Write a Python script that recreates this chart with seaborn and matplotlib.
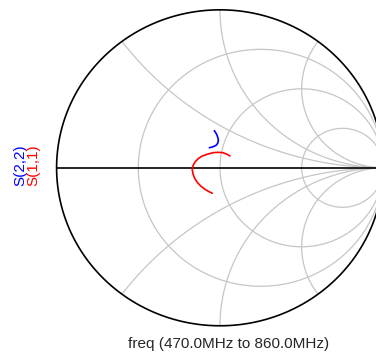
import numpy as np
import pandas as pd
import seaborn as sns
import matplotlib.pyplot as plt

s11_re = [0.061, 0.041, 0.017, -0.010, -0.041, -0.081, -0.112, -0.133, -0.151,
          -0.163, -0.170, -0.165, -0.155, -0.139, -0.118, -0.092, -0.067, -0.047]
s11_im = [0.075, 0.087, 0.096, 0.098, 0.096, 0.085, 0.073, 0.058, 0.039,
          0.018, -0.010, -0.039, -0.066, -0.092, -0.115, -0.136, -0.151, -0.161]
s22_re = [-0.035, -0.026, -0.018, -0.012, -0.010, -0.014, -0.024, -0.041, -0.053, -0.065]
s22_im = [0.235, 0.222, 0.206, 0.187, 0.172, 0.155, 0.142, 0.134, 0.130, 0.127]

# smith chart grid
r_values = [1 / 3, 1, 3]
x_values = [0.5, 1, 2]

trace_names = ["S(2,2)", "S(1,1)"]
freq_label = "freq (470.0MHz to 860.0MHz)"

sns.set_style("white")
plt.rcParams['font.family'] = ['Liberation Sans', 'DejaVu Sans']

fig = plt.figure(figsize=(3.76, 3.55), dpi=100)
ax = fig.add_axes([0.1505, 0.0823, 0.8691, 0.890])

grid_col = "#c6c6c6"

# resistance circles
t = np.linspace(0, 2 * np.pi, 400)
for r in r_values:
    c = r / (1 + r)
    rad = 1 / (1 + r)
    ax.plot(c + rad * np.cos(t), rad * np.sin(t), color=grid_col, lw=0.9)

# reactance arcs
rr = np.concatenate([[0], np.logspace(-3, 4, 600)])
for xv in x_values:
    for s in (1, -1):
        g = (rr + 1j * s * xv - 1) / (rr + 1j * s * xv + 1)
        ax.plot(g.real, g.imag, color=grid_col, lw=0.9)

# outer circle and real axis
ax.plot(np.cos(t), np.sin(t), color="black", lw=1.2, clip_on=False)
ax.plot([-1, 1], [0, 0], color="black", lw=1.2)

s11 = pd.DataFrame({"re": s11_re, "im": s11_im})
s22 = pd.DataFrame({"re": s22_re, "im": s22_im})
sns.lineplot(data=s11, x="re", y="im", sort=False, estimator=None, color="red", lw=1.2, ax=ax)
sns.lineplot(data=s22, x="re", y="im", sort=False, estimator=None, color="blue", lw=1.2, ax=ax)

ax.set_xlim(-1, 1)
ax.set_ylim(-1, 1)
ax.set_xticks([])
ax.set_yticks([])
ax.set_xlabel(None)
ax.set_ylabel(None)
sns.despine(ax=ax, left=True, bottom=True)

fig.text(0.054, 0.535, trace_names[0], color="blue", rotation=90, ha="center", va="center", fontsize=11)
fig.text(0.089, 0.535, trace_names[1], color="red", rotation=90, ha="center", va="center", fontsize=11)
fig.text(0.609, 0.032, freq_label, ha="center", va="center", fontsize=11)

fig.savefig("out.png", dpi=100)
